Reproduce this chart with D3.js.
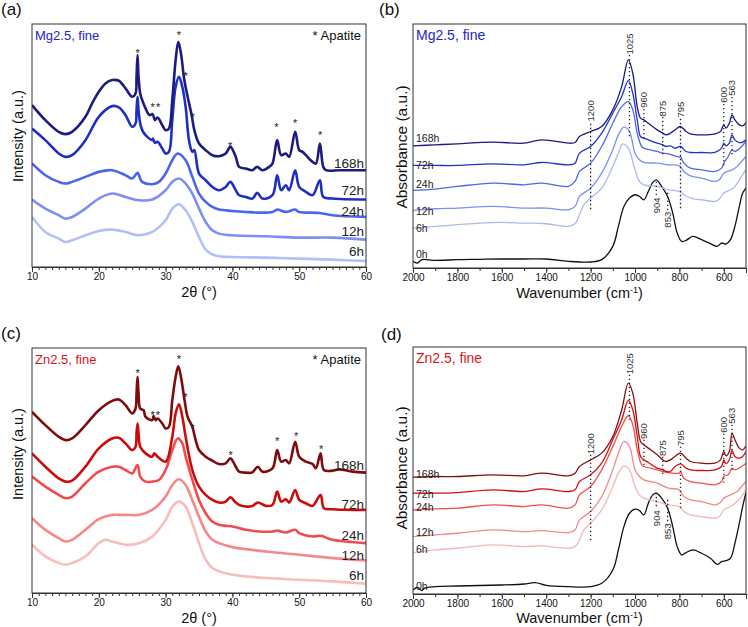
<!DOCTYPE html>
<html><head><meta charset="utf-8">
<script src="https://cdn.jsdelivr.net/npm/d3@7/dist/d3.min.js"></script>
<style>body{margin:0;background:#fff}svg{display:block;font-family:"Liberation Sans",Arial,sans-serif}</style>
</head><body>
<svg id="c" width="748" height="627"></svg>
<script>
// ---------------- DATA ----------------
const xrdTicks = [10, 20, 30, 40, 50, 60];
const xrdMinor = d3.range(10, 61, 1);
const ftirTicks = [2000, 1800, 1600, 1400, 1200, 1000, 800, 600];
const ftirMinor = d3.range(2000, 499, -100);
const xrdHours = ["168h", "72h", "24h", "12h", "6h"];
const ftirHours = ["168h", "72h", "24h", "12h", "6h", "0h"];

// (a) Mg2.5 XRD  [2theta, intensity]
const a168 = [[10,485],[12,440],[14,405],[15,398],[16,405],[18,450],[19,490],[20,525],[21,550],[22,560],[23,558],[24,535],[25,510],[25.5,520],[25.65,570],[25.8,635],[25.95,570],[26.2,520],[26.5,500],[27,475],[27.6,455],[28.05,458],[28.4,440],[28.8,448],[29.5,425],[30,410],[30.5,415],[31,500],[31.5,620],[31.9,675],[32.3,640],[32.8,560],[33.3,510],[33.9,455],[34.3,410],[35,370],[36,350],[37,335],[38,332],[39,340],[39.7,360],[40.5,330],[41,300],[42,295],[43,290],[43.7,300],[44.5,290],[45.5,300],[46,310],[46.7,380],[47.3,335],[48,340],[48.5,330],[49.4,405],[50,350],[50.5,345],[51,335],[52,315],[52.5,310],[53.1,370],[53.6,300],[54,290],[56,290],[58,290],[60,290]];
const a72 = [[10,415],[12,380],[14,340],[15,330],[16,335],[18,380],[20,450],[22,482],[23,478],[24,455],[25,420],[25.5,430],[25.65,470],[25.8,510],[25.95,470],[26.2,430],[26.5,410],[27,395],[28,380],[28.1,385],[28.4,372],[28.8,375],[29.5,355],[30,340],[30.5,345],[31,440],[31.5,540],[32,570],[32.5,540],[33,480],[33.5,380],[34,345],[34.3,350],[35,280],[36,260],[37,240],[38,230],[39,240],[39.7,255],[40.5,230],[41,215],[42,210],[43,205],[43.7,222],[44.5,205],[46,215],[46.7,275],[47.3,230],[48,245],[48.5,230],[49.4,290],[50,240],[51,225],[52,215],[53.1,260],[53.6,210],[55,205],[60,202]];
const a24 = [[10,310],[12,275],[14,255],[15,250],[16,255],[18,270],[20,285],[22,290],[24,275],[25,265],[25.8,282],[26.2,265],[26.5,255],[28,248],[29,255],[30,280],[31,320],[31.8,340],[33,320],[34,270],[35,220],[36,195],[37,180],[38,172],[40,168],[42,165],[44,163],[46,165],[46.7,172],[48,165],[49.4,172],[50,165],[53,162],[55,155],[60,150]];
const a12 = [[10,202],[12,175],[14,155],[15,145],[16,150],[18,175],[20,205],[22,220],[24,210],[26,200],[28,202],[30,230],[31,255],[32,265],[33,250],[34,220],[35,175],[36,135],[37,110],[38,100],[40,95],[45,92],[50,88],[55,88],[60,82]];
const a6 = [[10,150],[12,105],[14,85],[15,75],[16,80],[18,95],[20,108],[22,112],[24,105],[26,95],[28,105],[30,140],[31,175],[32,188],[33,170],[34,135],[35,90],[36,52],[37,38],[38,32],[40,30],[45,28],[50,25],[55,22],[60,18]];

// (c) Zn2.5 XRD
const c168 = [[10,545],[12,505],[14,470],[15,460],[16,465],[18,505],[20,550],[22,578],[23,582],[24,565],[25,540],[25.5,555],[25.65,600],[25.8,650],[25.95,600],[26.2,555],[26.7,550],[27,530],[28,520],[28.2,532],[28.5,520],[28.8,525],[29.5,510],[30,495],[30.5,500],[31,580],[31.5,650],[31.9,682],[32.3,650],[32.8,585],[33.3,530],[34,500],[34.5,460],[35,430],[36,410],[37,398],[38,388],[39,390],[39.7,405],[40.5,380],[41,365],[42,362],[43,363],[43.8,380],[44.5,365],[46,375],[46.7,430],[47.3,395],[48,400],[48.5,390],[49.4,455],[50,410],[51,395],[52,388],[52.5,375],[53.2,420],[53.7,370],[55,368],[56,372],[58,365],[60,362]];
const c72 = [[10,420],[12,380],[14,345],[15,335],[16,338],[18,380],[20,435],[22,465],[23,467],[24,450],[25,430],[25.5,440],[25.65,480],[25.8,510],[25.95,480],[26.2,440],[27,420],[28,410],[28.3,420],[28.8,410],[30,395],[31,470],[31.5,540],[32,568],[32.5,530],[33,470],[34,370],[35,320],[36,295],[37,280],[38,272],[39,275],[39.7,288],[40.5,272],[41,265],[42,260],[43,262],[43.8,272],[45,262],[46,265],[46.7,305],[47.3,275],[48,282],[48.5,272],[49.4,310],[50,280],[51,270],[52,262],[53.2,295],[53.7,255],[55,252],[58,250],[60,250]];
const c24 = [[10,350],[12,320],[14,295],[15,285],[16,290],[18,330],[20,365],[22,380],[23,380],[24,370],[25,360],[25.8,385],[26.2,350],[27,335],[28,335],[29,340],[30,370],[31,430],[31.8,465],[32.5,450],[33,410],[34,340],[35,280],[36,240],[37,215],[38,205],[39,202],[40,200],[42,190],[44,185],[46,185],[46.7,188],[48,182],[49.4,190],[50,180],[52,170],[53.2,172],[55,160],[60,150]];
const c12 = [[10,225],[12,190],[14,165],[15,155],[16,160],[18,190],[20,222],[22,235],[23,235],[24,235],[26,235],[28,250],[30,290],[31,325],[32,342],[33,325],[34,280],[35,230],[36,185],[37,160],[38,150],[40,138],[45,125],[50,115],[55,105],[60,98]];
const c6 = [[10,145],[12,110],[14,90],[15,85],[16,90],[18,110],[20,150],[21,160],[22,155],[24,145],[26,150],[28,170],[30,220],[31,260],[32,275],[33,260],[34,210],[35,150],[36,100],[37,75],[38,65],[40,55],[45,45],[50,40],[55,35],[60,28]];

// (b) Mg2.5 FTIR  [wavenumber, absorbance]
const b168 = [[2000,367],[1900,370],[1800,373],[1640,378],[1500,375],[1420,385],[1300,375],[1270,377],[1250,395],[1200,410],[1150,425],[1100,475],[1060,545],[1030,625],[1010,585],[990,485],[975,450],[960,445],[940,435],[900,415],[875,405],[860,400],[840,405],[820,415],[795,425],[770,410],[750,403],[700,400],[640,403],[615,410],[600,430],[590,420],[575,435],[563,460],[550,445],[530,430],[515,427],[500,437]];
const b72 = [[2000,308],[1900,308],[1800,308],[1640,313],[1500,310],[1420,317],[1300,310],[1270,315],[1250,345],[1200,365],[1150,405],[1100,465],[1060,515],[1030,563],[1010,525],[990,445],[975,395],[960,390],[940,385],[900,375],[875,370],[860,365],[840,367],[820,360],[795,365],[770,350],[750,347],[700,347],[640,347],[610,360],[600,375],[590,367],[575,375],[563,400],[550,385],[530,377],[520,377],[500,385]];
const b24 = [[2000,233],[1900,237],[1800,245],[1640,255],[1500,250],[1420,255],[1300,245],[1270,260],[1250,290],[1200,315],[1150,365],[1100,435],[1060,485],[1030,500],[1010,475],[990,405],[970,365],[960,360],[900,350],[875,345],[850,343],[800,333],[795,335],[780,315],[750,300],[700,295],[640,290],[610,300],[600,315],[580,335],[563,355],[550,350],[520,365],[500,380]];
const b12 = [[2000,173],[1900,178],[1800,180],[1640,185],[1500,180],[1400,180],[1300,175],[1270,185],[1250,215],[1200,240],[1150,285],[1100,355],[1075,400],[1050,423],[1025,410],[1000,345],[980,325],[960,317],[900,315],[850,310],[800,307],[780,290],[750,277],[700,270],[640,260],[620,265],[600,285],[563,295],[540,305],[520,320],[500,335]];
const b6 = [[2000,120],[1900,125],[1800,130],[1700,135],[1600,137],[1500,135],[1400,133],[1300,125],[1270,133],[1250,160],[1230,190],[1200,210],[1150,240],[1100,305],[1075,345],[1055,373],[1030,360],[1000,295],[980,260],[960,250],[900,245],[850,235],[800,230],[780,220],[750,210],[700,205],[640,200],[620,207],[600,225],[570,235],[550,245],[520,275],[500,295]];
const b0 = [[2000,20],[1980,15],[1960,25],[1900,23],[1800,25],[1700,26],[1600,27],[1500,27],[1400,27],[1300,20],[1200,18],[1150,25],[1100,65],[1075,125],[1050,185],[1025,210],[1000,220],[980,215],[960,205],[940,230],[920,257],[904,265],[880,245],[853,215],[830,165],[810,105],[790,80],[770,83],[740,95],[700,85],[660,73],[630,65],[610,75],[590,72],[570,85],[550,125],[530,185],[515,225],[500,240]];

// (d) Zn2.5 FTIR
const d168 = [[2000,350],[1900,352],[1800,352],[1640,357],[1500,354],[1420,362],[1300,354],[1270,362],[1250,382],[1200,402],[1150,422],[1100,472],[1060,552],[1030,632],[1010,602],[990,512],[975,457],[960,447],[940,437],[900,417],[875,402],[860,397],[840,402],[820,412],[795,422],[770,407],[750,397],[700,392],[640,392],[615,402],[600,427],[590,414],[575,427],[563,482],[550,462],[530,437],[515,432],[500,444]];
const d72 = [[2000,302],[1900,302],[1800,304],[1640,312],[1500,307],[1420,315],[1300,307],[1270,312],[1250,337],[1200,357],[1150,392],[1100,462],[1060,522],[1030,580],[1010,552],[990,472],[975,412],[960,402],[940,394],[900,377],[875,372],[860,367],[840,367],[820,382],[795,390],[770,377],[750,372],[700,370],[640,372],[610,382],[600,402],[590,390],[575,402],[563,430],[550,412],[530,407],[515,412],[500,427]];
const d24 = [[2000,252],[1900,255],[1800,257],[1640,267],[1500,262],[1420,267],[1300,257],[1270,267],[1250,297],[1200,322],[1150,372],[1100,442],[1060,502],[1030,534],[1010,507],[990,432],[970,387],[960,382],[900,372],[875,367],[850,364],[800,362],[795,367],[780,347],[750,337],[700,332],[640,327],[610,337],[600,352],[580,357],[563,377],[550,372],[520,382],[500,392]];
const d12 = [[2000,172],[1900,177],[1800,182],[1640,192],[1500,187],[1420,190],[1300,184],[1270,192],[1250,222],[1200,247],[1150,292],[1100,372],[1075,422],[1050,457],[1025,442],[1000,372],[980,352],[960,342],[900,332],[850,317],[800,312],[780,292],[750,282],[700,277],[640,267],[620,272],[600,287],[570,297],[540,307],[520,322],[500,337]];
const d6 = [[2000,124],[1900,132],[1800,137],[1640,147],[1500,142],[1420,144],[1300,137],[1270,142],[1250,162],[1230,192],[1200,212],[1150,252],[1100,322],[1075,362],[1050,384],[1025,372],[1000,322],[980,297],[960,287],[900,277],[850,267],[800,262],[780,247],[750,237],[700,232],[640,227],[620,232],[600,252],[570,262],[540,277],[520,292],[500,312]];
const d0 = [[2000,12],[1980,20],[1960,10],[1950,17],[1900,22],[1800,24],[1600,27],[1500,30],[1450,34],[1400,26],[1300,22],[1200,22],[1150,32],[1100,72],[1075,132],[1050,202],[1025,242],[1000,254],[980,250],[960,237],[940,272],[920,297],[904,302],[880,287],[853,257],[830,202],[810,142],[790,117],[770,124],[740,132],[700,122],[660,107],[630,89],[610,97],[590,100],[570,107],[550,152],[530,212],[515,262],[500,304]];

// apatite star markers [2theta, intensity]
const aStars = [[25.8,648],[32.0,700],[33.0,578],[28.05,484],[28.9,484],[34.05,454],[39.65,369],[46.6,426],[49.4,438],[53.15,401]];
const cStars = [[25.8,668],[32.0,711],[32.95,596],[28.05,540],[28.85,540],[34.05,501],[39.75,421],[46.7,464],[49.55,478],[53.3,438]];

// FTIR band annotations: wavenumber, label, label centre, line from, line to (absorbance units)
const bBands = [[1200,"1200",472,433,169],[1025,"1025",673,640,394],[960,"960",505,478,385],[875,"875",479,454,334],[795,"795",476,448,175],[600,"600",520,493,304],[563,"563",541,514,334],[904,"904",188,259,214],[853,"853",145,226,169]];
const dBands = [[1200,"1200",450,417,162],[1025,"1025",690,657,522],[960,"960",488,462,381],[875,"875",437,411,351],[795,"795",467,441,252],[600,"600",507,480,333],[563,"563",534,507,363],[904,"904",227,303,258],[853,"853",188,282,216]];

// ---------------- DRAW ----------------
const svg = d3.select("#c");
const FONT = '"Liberation Sans", Arial, sans-serif';
let clipId = 0;

function panel(o) {
  const g = svg.append("g");
  const x = d3.scaleLinear().domain(o.xDomain).range([o.l, o.r]);
  const y = d3.scaleLinear().domain(o.yDomain).range([o.b, o.t]);
  const id = "clip" + (clipId++);
  svg.append("clipPath").attr("id", id).append("rect")
    .attr("x", o.l).attr("y", o.t).attr("width", o.r - o.l).attr("height", o.b - o.t);
  const line = d3.line().x(d => x(d[0])).y(d => y(d[1])).curve(d3.curveCatmullRom.alpha(0.5));
  const pg = g.append("g").attr("clip-path", `url(#${id})`);
  o.series.map((s, i) => ({s, i})).reverse().forEach(({s, i}) => {
    pg.append("path").datum(s).attr("d", line).attr("fill", "none")
      .attr("stroke", o.colors[i]).attr("stroke-width", o.sw).attr("stroke-linejoin", "round");
  });
  if (o.stars) {
    o.stars.forEach(s => {
      g.append("text").attr("x", x(s[0])).attr("y", y(s[1]) + 6).attr("text-anchor", "middle")
        .attr("font-size", 11).attr("fill", "#222").text("*");
    });
  }
  if (o.bands) {
    o.bands.forEach(b => {
      g.append("line").attr("x1", x(b[0])).attr("x2", x(b[0])).attr("y1", y(b[3])).attr("y2", y(b[4]))
        .attr("stroke", "#222").attr("stroke-width", 1.3).attr("stroke-dasharray", "1.3,2.7");
      g.append("text").attr("transform", `translate(${x(b[0]) + 3.3},${y(b[2])}) rotate(-90)`)
        .attr("text-anchor", "middle").attr("font-size", 9.5).attr("fill", "#333").text(b[1]);
    });
  }
  o.labels.forEach((t, i) => {
    g.append("text").attr("x", o.labelX).attr("y", o.labelY[i]).attr("text-anchor", o.labelAnchor)
      .attr("font-size", o.labelSize).attr("fill", "#222").text(t);
  });
  g.append("rect").attr("x", o.l).attr("y", o.t).attr("width", o.r - o.l).attr("height", o.b - o.t)
    .attr("fill", "none").attr("stroke", "#333").attr("stroke-width", 1);
  const ax = g.append("g").attr("transform", `translate(0,${o.b})`);
  ax.call(d3.axisBottom(x).tickValues(o.minor).tickSize(3).tickFormat(""));
  const ax2 = g.append("g").attr("transform", `translate(0,${o.b})`);
  ax2.call(d3.axisBottom(x).tickValues(o.major).tickSize(5).tickPadding(1).tickFormat(d3.format("d")));
  [ax, ax2].forEach(a => {
    a.select(".domain").attr("stroke", "#333");
    a.selectAll(".tick line").attr("stroke", "#333");
    a.selectAll("text").attr("font-size", 10).attr("font-family", FONT).attr("fill", "#111");
  });
  g.append("text").attr("x", (o.l + o.r) / 2).attr("y", o.xTitleY).attr("text-anchor", "middle")
    .attr("font-size", 14.5).attr("fill", "#111").html(o.xTitle);
  g.append("text").attr("transform", `translate(${o.yTitleX},${o.yTitleC}) rotate(-90)`)
    .attr("text-anchor", "middle").attr("font-size", o.yTitleSize).attr("fill", "#111").text(o.yTitle);
  g.append("text").attr("x", o.l + 3).attr("y", o.t + 16).attr("font-size", o.sampleSize)
    .attr("fill", o.sampleColor).text(o.sample);
  if (o.stars) {
    g.append("text").attr("x", o.r - 5).attr("y", o.t + 16).attr("text-anchor", "end")
      .attr("font-size", 13).attr("fill", "#111").text("* Apatite");
  }
  g.append("text").attr("x", o.tagX).attr("y", o.tagY).attr("font-size", 17).attr("fill", "#111").text(o.tag);
}

const blues = ["#1b1b80", "#1f2fc2", "#4d64f0", "#7d8ff4", "#b3bff8"];
const reds = ["#7e0c0c", "#cc0c0c", "#f04c4c", "#f58888", "#f9bcbc"];
const bluesF = ["#1b1b80", "#2233c8", "#4f66f0", "#7c8ff4", "#aab8f6", "#111111"];
const redsF = ["#851010", "#d21010", "#f04e4e", "#f38888", "#f7b6b6", "#111111"];

const xrdTitle = "2θ (°)";
const ftirTitle = 'Wavenumber (cm<tspan dy="-5" font-size="9">-1</tspan><tspan dy="5">)</tspan>';

panel({tag: "(a)", tagX: 1, tagY: 15, l: 32, r: 366, t: 24, b: 267, xDomain: [10, 60], yDomain: [0, 728],
  series: [a168, a72, a24, a12, a6], colors: blues, sw: 2.6, stars: aStars,
  labels: xrdHours, labelX: 364, labelAnchor: "end", labelY: [168, 195, 216, 236, 256], labelSize: 13.5,
  major: xrdTicks, minor: xrdMinor, xTitle: xrdTitle, xTitleY: 297,
  yTitle: "Intensity (a.u.)", yTitleX: 23, yTitleC: 136, yTitleSize: 14.5,
  sample: "Mg2.5, fine", sampleColor: "#2424cc", sampleSize: 13});

panel({tag: "(b)", tagX: 379, tagY: 15, l: 413, r: 746, t: 24, b: 268, xDomain: [2000, 500], yDomain: [0, 733],
  series: [b168, b72, b24, b12, b6, b0], colors: bluesF, sw: 1.3, bands: bBands,
  labels: ftirHours, labelX: 416, labelAnchor: "start", labelY: [142, 169, 188, 215, 232, 258], labelSize: 10.5,
  major: ftirTicks, minor: ftirMinor, xTitle: ftirTitle, xTitleY: 298,
  yTitle: "Absorbance (a.u.)", yTitleX: 407, yTitleC: 147, yTitleSize: 15.5,
  sample: "Mg2.5, fine", sampleColor: "#2424cc", sampleSize: 14});

panel({tag: "(c)", tagX: 1, tagY: 339, l: 32, r: 366, t: 348, b: 593, xDomain: [10, 60], yDomain: [0, 737],
  series: [c168, c72, c24, c12, c6], colors: reds, sw: 2.6, stars: cStars,
  labels: xrdHours, labelX: 364, labelAnchor: "end", labelY: [470, 509, 540, 560, 580], labelSize: 13.5,
  major: xrdTicks, minor: xrdMinor, xTitle: xrdTitle, xTitleY: 623,
  yTitle: "Intensity (a.u.)", yTitleX: 23, yTitleC: 454, yTitleSize: 14.5,
  sample: "Zn2.5, fine", sampleColor: "#e01414", sampleSize: 13});

panel({tag: "(d)", tagX: 381, tagY: 340, l: 413, r: 746, t: 347, b: 594, xDomain: [2000, 500], yDomain: [0, 740],
  series: [d168, d72, d24, d12, d6, d0], colors: redsF, sw: 1.3, bands: dBands,
  labels: ftirHours, labelX: 416, labelAnchor: "start", labelY: [478, 498, 511, 536, 553, 590], labelSize: 10.5,
  major: ftirTicks, minor: ftirMinor, xTitle: ftirTitle, xTitleY: 623,
  yTitle: "Absorbance (a.u.)", yTitleX: 407, yTitleC: 468, yTitleSize: 15.5,
  sample: "Zn2.5, fine", sampleColor: "#e01414", sampleSize: 14});
</script>
</body></html>
